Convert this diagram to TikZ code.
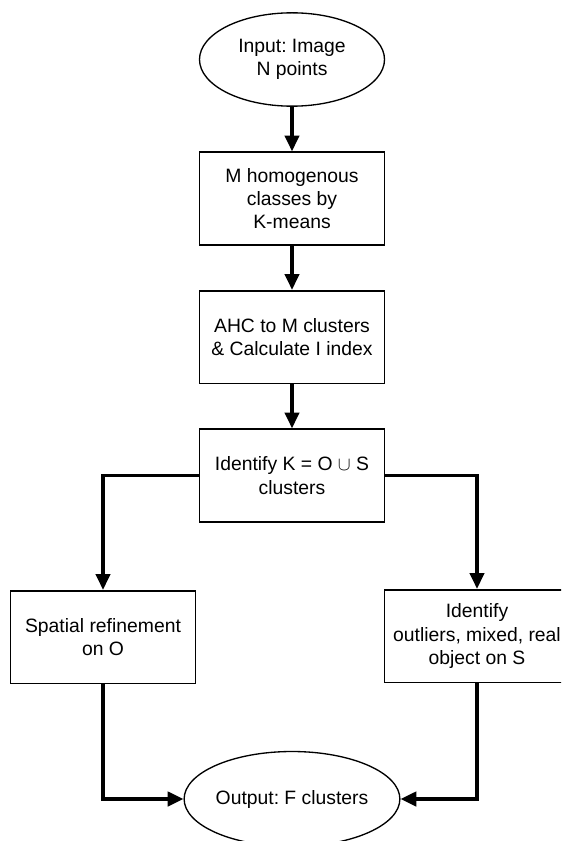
\documentclass[tikz,border=0pt]{standalone}
\usepackage{fontspec}
\setmainfont{Liberation Sans}
\usetikzlibrary{arrows.meta,shapes.geometric}
\frenchspacing
\begin{document}
\begin{tikzpicture}[x=0.75pt,y=-0.75pt,
  font=\fontsize{14.5}{17.5}\selectfont,
  box/.style={draw, line width=1.25pt, rectangle, minimum width=138.75pt,
    minimum height=69.5pt, inner sep=0pt, align=center},
  oval/.style={draw, line width=1pt, ellipse, minimum width=138.75pt,
    minimum height=70pt, inner sep=0pt, align=center},
  flow/.style={line width=2.5pt, -{Triangle[length=11.8pt,width=10.7pt]}}]
\useasboundingbox (0,0) rectangle (561,841);
\clip (0,0) rectangle (561,841);

\node[oval] (in) at (292,59.5) {Input: Image\\N points};
\node[box] (km) at (292,198.5) {M homogenous\\classes by\\K-means};
\node[box] (ahc) at (292,337) {AHC to M clusters\\\& Calculate I index};
\node[box] (id) at (292,475.5) {Identify K = O $\cup$ S\\clusters};
\node[box] (sp) at (103,637) {Spatial refinement\\on O};
\node[box] (ol) at (477,636) {Identify\\outliers, mixed, real\\object on S};
\node[oval, minimum height=71.25pt] (out) at (292,799) {Output: F clusters};

\draw[flow] (in.south) -- (km.north);
\draw[flow] (km.south) -- (ahc.north);
\draw[flow] (ahc.south) -- (id.north);
\draw[flow] (id.west) -| (sp.north);
\draw[flow] (id.east) -| (ol.north);
\draw[flow] (sp.south) |- (out.west);
\draw[flow] (ol.south) |- (out.east);
\end{tikzpicture}
\end{document}
